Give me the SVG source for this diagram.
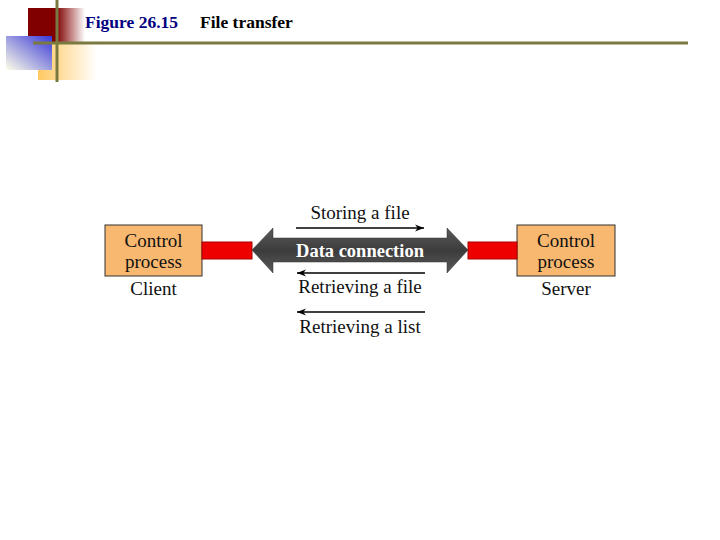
<svg xmlns="http://www.w3.org/2000/svg" width="720" height="540" viewBox="0 0 720 540">
<defs>
<linearGradient id="gRed" x1="0" y1="0" x2="1" y2="0">
<stop offset="0" stop-color="#800000"/><stop offset="0.5" stop-color="#800000"/><stop offset="1" stop-color="#800000" stop-opacity="0"/>
</linearGradient>
<linearGradient id="gBlue" x1="1" y1="0" x2="0" y2="1">
<stop offset="0" stop-color="#3838D8"/><stop offset="1" stop-color="#FFFFE8"/>
</linearGradient>
<linearGradient id="gYel" x1="0" y1="0" x2="1" y2="0">
<stop offset="0" stop-color="#FFC860"/><stop offset="1" stop-color="#FFC860" stop-opacity="0"/>
</linearGradient>
<linearGradient id="gArrow" x1="0" y1="0" x2="0" y2="1">
<stop offset="0" stop-color="#5a5a5a"/><stop offset="0.5" stop-color="#3c3c3c"/><stop offset="1" stop-color="#5a5a5a"/>
</linearGradient>
<marker id="ah" viewBox="0 0 10 10" refX="10" refY="5" markerWidth="14" markerHeight="9" markerUnits="userSpaceOnUse" orient="auto">
<path d="M0,1 L10,5 L0,9 L3,5 Z" fill="#000"/>
</marker>
<style>
.box{fill:#F8B870;stroke:#333;stroke-width:1}
.bar{fill:#EE0000;stroke:#a00;stroke-width:1}
.t{font-family:"Liberation Serif",serif;font-size:19px;fill:#111;text-anchor:middle}
.lbl{font-family:"Liberation Serif",serif;font-size:19px;fill:#111;text-anchor:middle}
.ar{stroke:#000;stroke-width:1.5;fill:none;marker-end:url(#ah)}
</style>
</defs>
<rect width="720" height="540" fill="#fff"/>
<g id="decoration">
<rect x="28" y="8" width="57" height="34" fill="url(#gRed)"/>
<rect x="38" y="42" width="59" height="38" fill="url(#gYel)"/>
<rect x="6" y="36" width="46" height="34" fill="url(#gBlue)"/>
<line x1="57" y1="0" x2="57" y2="82" stroke="#7A7A40" stroke-width="3"/>
<line x1="33" y1="43" x2="688" y2="43" stroke="#7A7A40" stroke-width="3"/>
</g>
<g id="title" font-family="Liberation Serif,serif" font-weight="bold" font-size="17.5">
<text x="85" y="28" fill="#000080">Figure 26.15</text>
<text x="200" y="28" fill="#000">File transfer</text>
</g>
<g id="client">
<rect class="box" x="105" y="225" width="97" height="51"/>
<text class="t" x="153.5" y="247">Control</text>
<text class="t" x="153.5" y="268">process</text>
<text class="lbl" x="153.5" y="295">Client</text>
</g>
<g id="server">
<rect class="box" x="517" y="225" width="98" height="51"/>
<text class="t" x="566" y="247">Control</text>
<text class="t" x="566" y="268">process</text>
<text class="lbl" x="566" y="295">Server</text>
</g>
<g id="connectors">
<rect class="bar" x="202" y="242" width="50" height="17"/>
<rect class="bar" x="468" y="242" width="49" height="17"/>
<path d="M252,250 L273,228 L273,238 L447,238 L447,228 L468,250 L447,273 L447,262 L273,262 L273,273 Z" fill="url(#gArrow)" stroke="#333" stroke-width="0.5"/>
<text x="360" y="256.5" font-family="Liberation Serif,serif" font-weight="bold" font-size="18.5" fill="#fff" text-anchor="middle">Data connection</text>
<line class="ar" x1="296" y1="228" x2="424" y2="228"/>
<line class="ar" x1="425" y1="273" x2="297" y2="273"/>
<line class="ar" x1="425" y1="312" x2="297" y2="312"/>
<text class="lbl" x="360" y="219">Storing a file</text>
<text class="lbl" x="360" y="293">Retrieving a file</text>
<text class="lbl" x="360" y="333">Retrieving a list</text>
</g>
</svg>
